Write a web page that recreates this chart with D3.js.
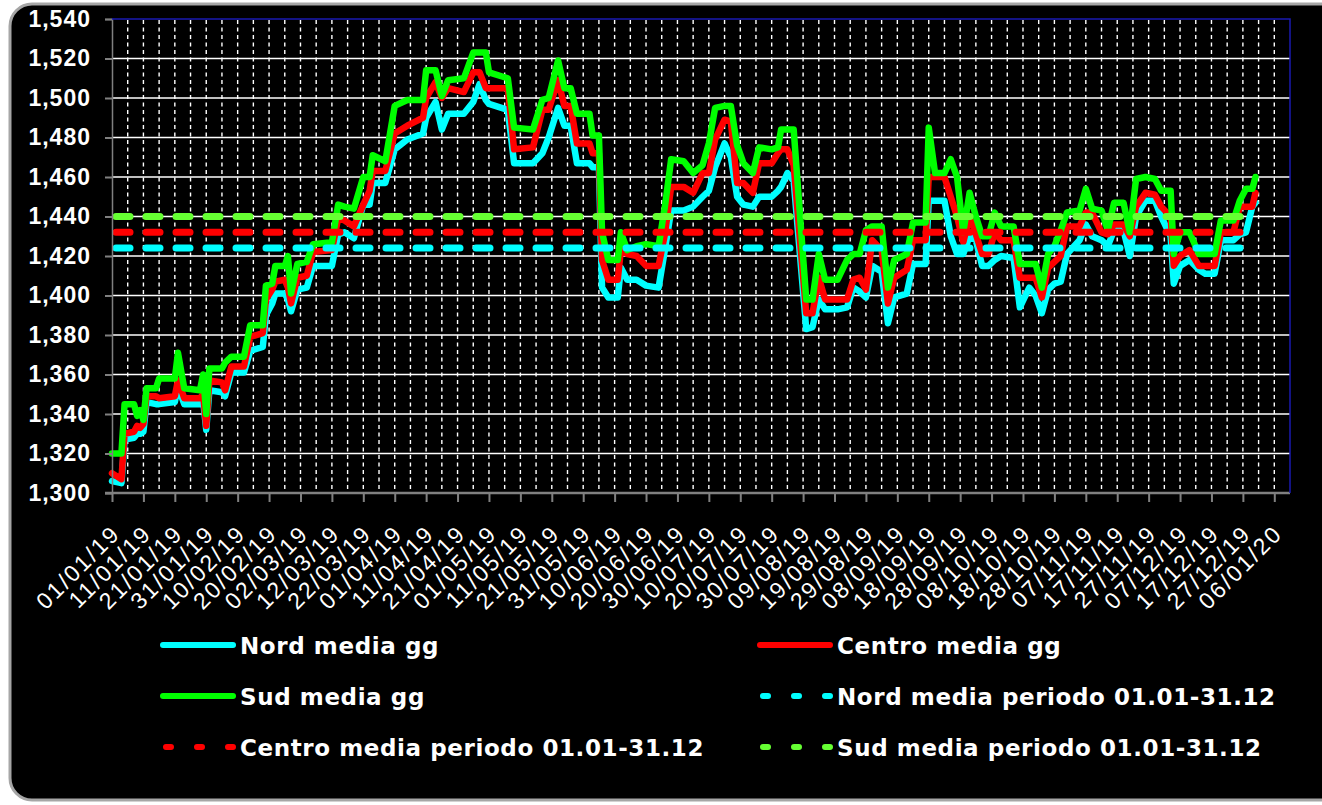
<!DOCTYPE html>
<html>
<head>
<meta charset="utf-8">
<script src="https://cdn.jsdelivr.net/npm/d3@7"></script>
<style>
  body { margin: 0; background: #fff; }
  svg { display: block; font-family: 'DejaVu Sans', Verdana, sans-serif; }
  .ylab { font-weight: bold; font-size: 23px; letter-spacing: 1px; fill: #fff; }
  .xlab { font-size: 23px; letter-spacing: 2.2px; fill: #fff; }
  .leg { font-weight: bold; font-size: 23px; letter-spacing: 0.6px; fill: #fff; }
</style>
</head>
<body>
<script>
// giorni
const dates = [
  "01/01/19","04/01/19","05/01/19","08/01/19","09/01/19","10/01/19","11/01/19","12/01/19","15/01/19","16/01/19",
  "21/01/19","22/01/19","24/01/19","29/01/19","30/01/19","31/01/19","01/02/19","05/02/19","06/02/19","08/02/19",
  "12/02/19","14/02/19","18/02/19","19/02/19","21/02/19","22/02/19","25/02/19","26/02/19","27/02/19","01/03/19",
  "04/03/19","06/03/19","12/03/19","14/03/19","16/03/19","19/03/19","22/03/19","24/03/19","25/03/19","29/03/19",
  "01/04/19","05/04/19","10/04/19","11/04/19","14/04/19","16/04/19","18/04/19","23/04/19","26/04/19","28/04/19",
  "30/04/19","01/05/19","07/05/19","09/05/19","15/05/19","18/05/19","20/05/19","23/05/19","25/05/19","27/05/19",
  "29/05/19","02/06/19","03/06/19","05/06/19","06/06/19","08/06/19","11/06/19","12/06/19","14/06/19","17/06/19",
  "20/06/19","24/06/19","26/06/19","28/06/19","02/07/19","05/07/19","08/07/19","10/07/19","12/07/19","15/07/19",
  "17/07/19","19/07/19","21/07/19","24/07/19","26/07/19","30/07/19","01/08/19","02/08/19","04/08/19","06/08/19",
  "10/08/19","12/08/19","14/08/19","16/08/19","20/08/19","23/08/19","25/08/19","27/08/19","29/08/19","31/08/19",
  "03/09/19","05/09/19","07/09/19","11/09/19","13/09/19","17/09/19","18/09/19","20/09/19","23/09/19","25/09/19",
  "27/09/19","29/09/19","01/10/19","03/10/19","05/10/19","07/10/19","09/10/19","11/10/19","15/10/19","17/10/19",
  "20/10/19","22/10/19","24/10/19","26/10/19","28/10/19","30/10/19","01/11/19","05/11/19","07/11/19","09/11/19",
  "12/11/19","14/11/19","16/11/19","19/11/19","21/11/19","23/11/19","26/11/19","29/11/19","01/12/19","04/12/19",
  "05/12/19","07/12/19","10/12/19","13/12/19","15/12/19","18/12/19","20/12/19","24/12/19","26/12/19","28/12/19",
  "30/12/19","31/12/19"
];

const sud = [
  1.320,1.320,1.345,1.345,1.339,1.342,1.337,1.353,1.353,1.358,
  1.358,1.371,1.353,1.352,1.360,1.340,1.363,1.363,1.366,1.369,
  1.369,1.385,1.385,1.405,1.406,1.415,1.415,1.420,1.401,1.416,
  1.417,1.426,1.427,1.446,1.445,1.444,1.460,1.460,1.471,1.468,
  1.496,1.499,1.499,1.514,1.514,1.501,1.509,1.510,1.523,1.523,
  1.523,1.513,1.510,1.485,1.484,1.499,1.500,1.519,1.505,1.505,
  1.492,1.492,1.481,1.481,1.432,1.418,1.418,1.432,1.423,1.425,
  1.426,1.425,1.445,1.469,1.468,1.462,1.466,1.477,1.495,1.496,
  1.496,1.476,1.467,1.462,1.475,1.474,1.475,1.484,1.484,1.484,
  1.398,1.398,1.421,1.408,1.408,1.418,1.421,1.421,1.433,1.435,
  1.435,1.404,1.418,1.421,1.437,1.437,1.485,1.462,1.462,1.469,
  1.460,1.432,1.452,1.440,1.430,1.430,1.442,1.435,1.435,1.416,
  1.416,1.416,1.404,1.421,1.425,1.433,1.442,1.443,1.454,1.444,
  1.443,1.433,1.447,1.447,1.432,1.459,1.460,1.459,1.453,1.453,
  1.421,1.432,1.432,1.421,1.421,1.421,1.438,1.438,1.448,1.454,
  1.454,1.460
];

const centro = [
  1.310,1.307,1.330,1.331,1.334,1.333,1.335,1.349,1.349,1.348,
  1.349,1.357,1.348,1.348,1.350,1.334,1.357,1.356,1.352,1.364,
  1.364,1.379,1.381,1.398,1.403,1.407,1.408,1.404,1.396,1.409,
  1.410,1.422,1.423,1.439,1.438,1.435,1.446,1.453,1.463,1.463,
  1.482,1.486,1.490,1.500,1.508,1.500,1.505,1.503,1.513,1.513,
  1.505,1.505,1.505,1.474,1.475,1.494,1.494,1.509,1.496,1.496,
  1.477,1.477,1.472,1.472,1.418,1.408,1.408,1.423,1.421,1.420,
  1.415,1.415,1.431,1.455,1.455,1.452,1.462,1.462,1.479,1.489,
  1.488,1.457,1.457,1.452,1.467,1.467,1.472,1.474,1.474,1.466,
  1.391,1.391,1.409,1.398,1.398,1.398,1.408,1.409,1.403,1.428,
  1.423,1.396,1.409,1.413,1.428,1.428,1.460,1.460,1.460,1.450,
  1.440,1.427,1.440,1.431,1.421,1.421,1.432,1.428,1.428,1.409,
  1.409,1.409,1.399,1.414,1.417,1.420,1.435,1.435,1.442,1.442,
  1.432,1.431,1.436,1.436,1.430,1.445,1.452,1.451,1.445,1.440,
  1.415,1.420,1.423,1.415,1.415,1.415,1.432,1.432,1.445,1.445,
  1.445,1.452
];

const nord = [
  1.306,1.305,1.327,1.328,1.330,1.330,1.331,1.346,1.345,1.345,
  1.346,1.354,1.345,1.345,1.347,1.332,1.352,1.351,1.349,1.361,
  1.361,1.372,1.374,1.390,1.396,1.401,1.401,1.398,1.392,1.403,
  1.404,1.415,1.415,1.431,1.432,1.429,1.446,1.446,1.457,1.457,
  1.474,1.479,1.482,1.490,1.498,1.484,1.492,1.492,1.498,1.507,
  1.499,1.497,1.494,1.467,1.467,1.472,1.480,1.495,1.486,1.486,
  1.467,1.467,1.465,1.465,1.404,1.399,1.399,1.414,1.408,1.408,
  1.405,1.404,1.423,1.443,1.443,1.445,1.450,1.453,1.465,1.477,
  1.470,1.450,1.446,1.445,1.450,1.450,1.453,1.455,1.462,1.458,
  1.383,1.384,1.398,1.393,1.393,1.394,1.404,1.402,1.399,1.415,
  1.412,1.386,1.399,1.401,1.416,1.416,1.448,1.448,1.448,1.430,
  1.421,1.421,1.430,1.428,1.415,1.415,1.418,1.420,1.419,1.394,
  1.404,1.400,1.391,1.403,1.406,1.407,1.421,1.428,1.436,1.430,
  1.428,1.425,1.433,1.433,1.420,1.440,1.448,1.448,1.440,1.430,
  1.406,1.415,1.418,1.413,1.411,1.411,1.428,1.428,1.431,1.432,
  1.445,1.447
];

// medie periodo 01.01-31.12
const nordMedia = 1.424;
const centroMedia = 1.432;
const sudMedia = 1.440;

const yTicks = [1.30, 1.32, 1.34, 1.36, 1.38, 1.40, 1.42, 1.44, 1.46, 1.48, 1.50, 1.52, 1.54];
const xTickLabels = [
  "01/01/19","11/01/19","21/01/19","31/01/19","10/02/19","20/02/19","02/03/19","12/03/19","22/03/19","01/04/19",
  "11/04/19","21/04/19","01/05/19","11/05/19","21/05/19","31/05/19","10/06/19","20/06/19","30/06/19","10/07/19",
  "20/07/19","30/07/19","09/08/19","19/08/19","29/08/19","08/09/19","18/09/19","28/09/19","08/10/19","18/10/19",
  "28/10/19","07/11/19","17/11/19","27/11/19","07/12/19","17/12/19","27/12/19","06/01/20"
];

const parse = d3.utcParse("%d/%m/%y");
const fmt = d3.utcFormat("%d/%m/%y");

const width = 1322, height = 805;
const plot = {left: 112, right: 1290, top: 19, bottom: 493};

const svg = d3.select("body").append("svg")
  .attr("width", width)
  .attr("height", height);

// cornice
svg.append("rect")
  .attr("x", 10).attr("y", 4)
  .attr("width", 1340).attr("height", 796)
  .attr("rx", 22)
  .attr("fill", "#000")
  .attr("stroke", "#a6a6a6")
  .attr("stroke-width", 3);

const tickDates = xTickLabels.map(parse);
const x = d3.scaleUtc()
  .domain([tickDates[0], d3.utcDay.offset(tickDates[tickDates.length - 1], 5)])
  .range([plot.left, plot.right]);
const y = d3.scaleLinear().domain([1.30, 1.54]).range([plot.bottom, plot.top]);

// griglia orizzontale
svg.append("g").selectAll("line")
  .data(yTicks.slice(1, -1))
  .join("line")
  .attr("x1", plot.left).attr("x2", plot.right)
  .attr("y1", d => y(d)).attr("y2", d => y(d))
  .attr("stroke", "#fff")
  .attr("stroke-width", 1.5);

// griglia verticale tratteggiata, ogni 5 giorni
const minor = d3.range(1, 75).map(i => d3.utcDay.offset(tickDates[0], i * 5));
svg.append("g").selectAll("line")
  .data(minor)
  .join("line")
  .attr("x1", d => x(d)).attr("x2", d => x(d))
  .attr("y1", plot.top + 1).attr("y2", plot.bottom)
  .attr("stroke", "#fff")
  .attr("stroke-width", 1.4)
  .attr("stroke-dasharray", "4 3.5");

// serie
const rows = dates.map((d, i) => ({date: parse(d), nord: nord[i], centro: centro[i], sud: sud[i]}));
const series = [
  {key: "nord", color: "#00ffff"},
  {key: "centro", color: "#ff0000"},
  {key: "sud", color: "#00ff00"}
];
series.forEach(s => {
  svg.append("path")
    .datum(rows)
    .attr("fill", "none")
    .attr("stroke", s.color)
    .attr("stroke-width", 6.5)
    .attr("stroke-linejoin", "round")
    .attr("stroke-linecap", "round")
    .attr("d", d3.line().x(d => x(d.date)).y(d => y(d[s.key])));
});

// medie periodo
const first = rows[0].date, last = rows[rows.length - 1].date;
[
  {v: nordMedia, color: "#00ffff"},
  {v: centroMedia, color: "#ff0000"},
  {v: sudMedia, color: "#66ff33"}
].forEach(m => {
  svg.append("line")
    .attr("x1", x(first)).attr("x2", x(last))
    .attr("y1", y(m.v)).attr("y2", y(m.v))
    .attr("stroke", m.color)
    .attr("stroke-width", 7)
    .attr("stroke-linecap", "round")
    .attr("stroke-dasharray", "14 16")
    .attr("stroke-dashoffset", -4);
});

// assi
const yAxis = svg.append("g")
  .attr("transform", `translate(${plot.left},0)`)
  .call(d3.axisLeft(y).tickValues(yTicks).tickSize(7).tickPadding(14)
    .tickFormat(d => d3.format(".3f")(d).replace(".", ",")));
yAxis.select(".domain").attr("stroke", "#808080").attr("stroke-width", 1.5);
yAxis.selectAll(".tick line").attr("stroke", "#808080").attr("stroke-width", 2);
yAxis.selectAll("text").attr("class", "ylab").attr("font-family", null).attr("font-size", null);

const xAxis = svg.append("g")
  .attr("transform", `translate(0,${plot.bottom})`)
  .call(d3.axisBottom(x).tickValues(tickDates).tickSize(9).tickSizeOuter(0).tickFormat(fmt));
xAxis.select(".domain").attr("stroke", "#808080").attr("stroke-width", 2.5)
  .attr("d", `M${plot.left - 7},0H${plot.right}`);
xAxis.selectAll(".tick line").attr("stroke", "#808080").attr("stroke-width", 2);
xAxis.selectAll("text")
  .attr("class", "xlab")
  .attr("font-family", null).attr("font-size", null)
  .attr("y", 0).attr("dy", null)
  .attr("transform", "translate(9,42) rotate(-45)")
  .style("text-anchor", "end");

// bordo blu area del tracciato
svg.append("path")
  .attr("d", `M${plot.left},${plot.top}H${plot.right}V${plot.bottom}`)
  .attr("fill", "none")
  .attr("stroke", "#1a1ab0")
  .attr("stroke-width", 1.5);

// legenda
const legend = [
  {label: "Nord media gg", color: "#00ffff", dash: false, col: 0, row: 0},
  {label: "Centro media gg", color: "#ff0000", dash: false, col: 1, row: 0},
  {label: "Sud media gg", color: "#00ff00", dash: false, col: 0, row: 1},
  {label: "Nord media periodo 01.01-31.12", color: "#00ffff", dash: true, col: 1, row: 1},
  {label: "Centro media periodo 01.01-31.12", color: "#ff0000", dash: true, col: 0, row: 2},
  {label: "Sud media periodo 01.01-31.12", color: "#66ff33", dash: true, col: 1, row: 2}
];
const colX = [160, 757];
const item = svg.append("g").selectAll("g")
  .data(legend)
  .join("g")
  .attr("transform", d => `translate(${colX[d.col]},${645 + d.row * 51})`);
item.append("line")
  .attr("x1", 3).attr("x2", 73)
  .attr("stroke", d => d.color)
  .attr("stroke-width", 6)
  .attr("stroke-linecap", "round")
  .attr("stroke-dasharray", d => d.dash ? "5 26" : null)
  .attr("stroke-dashoffset", d => d.dash ? -3 : null);
item.append("text")
  .attr("class", "leg")
  .attr("x", 80).attr("y", 9)
  .text(d => d.label);
</script>
</body>
</html>
